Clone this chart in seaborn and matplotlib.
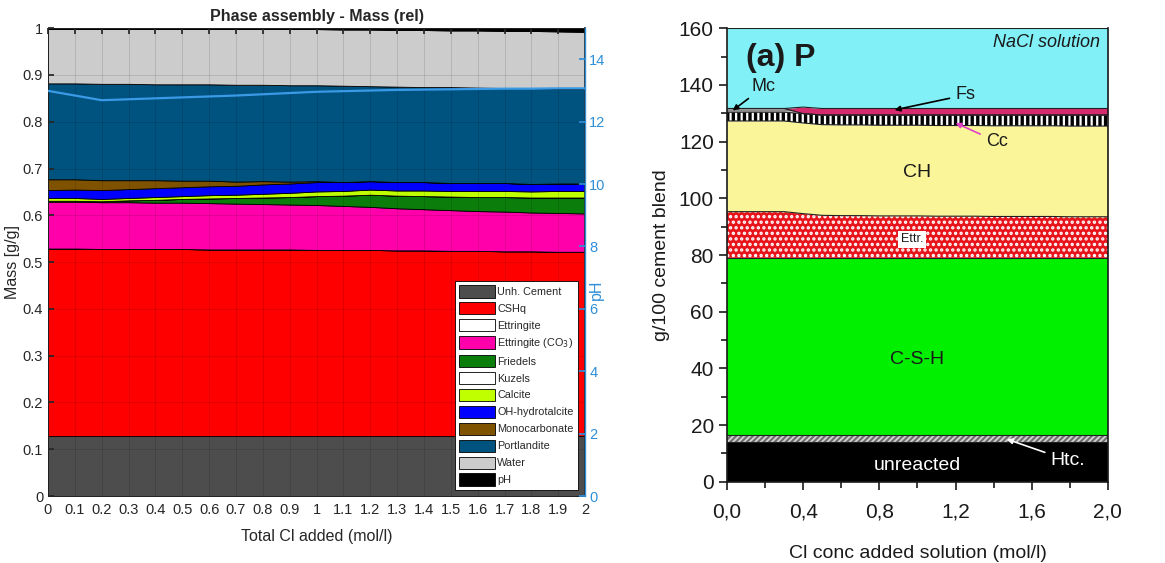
import numpy as np
import seaborn as sns
import matplotlib
matplotlib.use("Agg")
import matplotlib.pyplot as plt

# ---- left panel data (relative mass, g/g) ----
cl_added = [0.0, 0.1, 0.2, 0.3, 0.4, 0.5, 0.6, 0.7, 0.8, 0.9, 1.0,
            1.1, 1.2, 1.3, 1.4, 1.5, 1.6, 1.7, 1.8, 1.9, 2.0]
unh_cement = [0.128] * 21
cshq = [0.401, 0.401, 0.400, 0.400, 0.400, 0.400, 0.399, 0.399, 0.399, 0.399, 0.398,
        0.398, 0.398, 0.397, 0.397, 0.396, 0.396, 0.395, 0.395, 0.394, 0.394]
ettringite = [0.0] * 21
ettringite_co3 = [0.100, 0.100, 0.100, 0.100, 0.099, 0.099, 0.099, 0.098, 0.097, 0.096, 0.096,
                  0.094, 0.092, 0.090, 0.088, 0.087, 0.085, 0.085, 0.083, 0.083, 0.082]
friedels = [0.002, 0.002, 0.002, 0.004, 0.006, 0.008, 0.010, 0.012, 0.014, 0.016, 0.019,
            0.022, 0.026, 0.027, 0.028, 0.029, 0.030, 0.031, 0.032, 0.033, 0.034]
kuzels = [0.0] * 21
calcite = [0.006, 0.006, 0.005, 0.005, 0.006, 0.006, 0.007, 0.007, 0.008, 0.009, 0.010,
           0.010, 0.011, 0.011, 0.012, 0.012, 0.013, 0.013, 0.013, 0.014, 0.014]
oh_hydrotalcite = [0.017, 0.018, 0.019, 0.019, 0.019, 0.019, 0.019, 0.019, 0.020, 0.020, 0.020,
                   0.019, 0.018, 0.018, 0.018, 0.017, 0.017, 0.017, 0.016, 0.016, 0.016]
monocarbonate = [0.023, 0.022, 0.021, 0.019, 0.017, 0.014, 0.012, 0.009, 0.007, 0.004, 0.002,
                 0.0, 0.0, 0.0, 0.0, 0.0, 0.0, 0.0, 0.0, 0.0, 0.0]
portlandite = [0.205, 0.205, 0.206, 0.206, 0.205, 0.206, 0.206, 0.207, 0.206, 0.206, 0.205,
               0.206, 0.203, 0.204, 0.203, 0.205, 0.204, 0.203, 0.205, 0.203, 0.203]
water = [0.116, 0.116, 0.117, 0.117, 0.118, 0.118, 0.118, 0.119, 0.119, 0.120, 0.120,
         0.120, 0.121, 0.121, 0.122, 0.121, 0.122, 0.122, 0.122, 0.122, 0.121]
ph_band = [0.002, 0.002, 0.002, 0.002, 0.002, 0.002, 0.002, 0.002, 0.002, 0.002, 0.002,
           0.003, 0.003, 0.004, 0.004, 0.005, 0.005, 0.006, 0.006, 0.007, 0.008]
ph = [12.99, 12.84, 12.69, 12.72, 12.75, 12.78, 12.81, 12.84, 12.88, 12.92, 12.96,
      12.98, 13.00, 13.02, 13.03, 13.04, 13.05, 13.06, 13.06, 13.07, 13.07]

phase_names = ["Unh. Cement", "CSHq", "Ettringite", "Ettringite (CO$_3$)", "Friedels",
               "Kuzels", "Calcite", "OH-hydrotalcite", "Monocarbonate", "Portlandite",
               "Water", "pH"]
phase_colors = ["#4d4d4d", "#ff0000", "#ffffff", "#ff00aa", "#0a7d0a", "#ffffff",
                "#bfff00", "#0000ff", "#7f5200", "#00527f", "#cccccc", "#000000"]

# ---- right panel data (g/100 g cement blend) ----
cl_conc = [0.0, 0.1, 0.2, 0.3, 0.4, 0.5, 0.6, 0.7, 0.8, 0.9, 1.0,
           1.1, 1.2, 1.3, 1.4, 1.5, 1.6, 1.7, 1.8, 1.9, 2.0]
unreacted = [14.0] * 21
htc = [2.5] * 21
csh = [62.5] * 21
ettr = [16.3, 16.3, 16.3, 16.3, 15.6, 15.0, 14.9, 14.9, 14.8, 14.8, 14.8,
        14.7, 14.7, 14.7, 14.6, 14.6, 14.6, 14.6, 14.5, 14.5, 14.5]
ch = [32.0] * 21
cc = [3.1, 3.1, 3.1, 3.1, 3.3, 3.4, 3.5, 3.5, 3.6, 3.6, 3.6,
      3.7, 3.7, 3.7, 3.8, 3.8, 3.8, 3.8, 3.9, 3.9, 3.9]
mc = [1.3, 1.3, 1.3, 1.3, 0, 0, 0, 0, 0, 0, 0, 0, 0, 0, 0, 0, 0, 0, 0, 0, 0]
fs = [0, 0, 0, 0, 2.3, 2.3, 2.3, 2.3, 2.3, 2.3, 2.3,
      2.3, 2.3, 2.3, 2.3, 2.3, 2.3, 2.3, 2.3, 2.3, 2.3]
solution = [28.3, 28.3, 28.3, 28.3, 27.8, 28.3, 28.3, 28.3, 28.3, 28.3, 28.3,
            28.3, 28.3, 28.3, 28.3, 28.3, 28.3, 28.3, 28.3, 28.3, 28.3]
right_xticks = [0.0, 0.4, 0.8, 1.2, 1.6, 2.0]
right_xlabels = ["0,0", "0,4", "0,8", "1,2", "1,6", "2,0"]

sns.set_theme(style="white")
plt.rcParams["font.family"] = ["Liberation Sans Narrow", "Liberation Sans", "DejaVu Sans"]
plt.rcParams["hatch.linewidth"] = 1.6

fig = plt.figure(figsize=(11.65, 5.63), dpi=100)

# ================= left panel =================
ax = fig.add_axes([0.0412, 0.119, 0.461, 0.831])
layers = [unh_cement, cshq, ettringite, ettringite_co3, friedels, kuzels, calcite,
          oh_hydrotalcite, monocarbonate, portlandite, water, ph_band]
ax.stackplot(cl_added, *layers, colors=phase_colors, labels=phase_names,
             edgecolor="black", linewidth=0.6)
ax.set_xlim(0, 2)
ax.set_ylim(0, 1)
ax.set_xticks(np.arange(0, 2.01, 0.1))
ax.set_xticklabels(["%g" % round(v, 1) for v in np.arange(0, 2.01, 0.1)])
ax.set_yticks(np.arange(0, 1.01, 0.1))
ax.set_yticklabels(["%g" % round(v, 1) for v in np.arange(0, 1.01, 0.1)])
ax.set_axisbelow(False)
ax.grid(True, color="#000000", alpha=0.13, linewidth=0.6)
ax.tick_params(axis="both", direction="in", length=4, labelsize=10.5, colors="#262626",
               top=True, right=False)
ax.tick_params(axis="x", pad=5)
for s in ["left", "bottom", "top"]:
    ax.spines[s].set_color("#262626")
    ax.spines[s].set_linewidth(0.6)
ax.set_xlabel("Total Cl added (mol/l)", fontsize=11.5, color="#262626", labelpad=9)
ax.set_ylabel("Mass [g/g]", fontsize=11.5, color="#262626", labelpad=2)
ax.set_title("Phase assembly - Mass (rel)", fontsize=11.5, fontweight="bold", pad=5)
leg = ax.legend(loc="lower right", bbox_to_anchor=(0.987, 0.013), borderaxespad=0,
                fontsize=7.8, handlelength=3.3, handleheight=1.35, labelspacing=0.44,
                handletextpad=0.25, borderpad=0.4, frameon=True, fancybox=False,
                framealpha=1, edgecolor="black")
leg.get_frame().set_linewidth(0.6)

ph_color = "#2f8fd8"
ax2 = ax.twinx()
sns.lineplot(x=cl_added, y=ph, ax=ax2, color="#3a9ae6", linewidth=1.6)
ax2.set_ylim(0, 15)
ax2.set_yticks(np.arange(0, 15, 2))
ax2.tick_params(axis="y", direction="in", length=4, labelsize=10.5, colors=ph_color, pad=3)
ax2.set_ylabel("pH", fontsize=11.5, color=ph_color)
ax2.yaxis.set_label_coords(1.008, 0.44)
ax2.spines["right"].set_color(ph_color)
ax2.spines["right"].set_linewidth(1.0)
for s in ["left", "bottom", "top"]:
    ax2.spines[s].set_visible(False)

# ================= right panel =================
bx = fig.add_axes([0.624, 0.1444, 0.327, 0.8053])
right_layers = [
    (unreacted, "#000000", None, "black"),
    (htc, "#d8d8d8", "//////", "#707070"),
    (csh, "#00f000", None, "black"),
    (ettr, "#e8141c", "...", "white"),
    (ch, "#fbf59a", None, "black"),
    (cc, "#000000", "|||", "white"),
    (mc, "#f2f2f2", "----", "#8a8a8a"),
    (fs, "#d62a6e", None, "#d62a6e"),
    (solution, "#82f0f7", None, "#82f0f7"),
]
x = np.array(cl_conc)
base = np.zeros(len(x))
for vals, fc, hatch, ec in right_layers:
    top = base + np.array(vals)
    bx.fill_between(x, base, top, facecolor=fc, hatch=hatch, edgecolor=ec,
                    linewidth=0)
    bx.plot(x, top, color="#202020", linewidth=0.8)
    base = top

bx.set_xlim(0, 2)
bx.set_ylim(0, 160)
bx.set_xticks(right_xticks)
bx.set_xticklabels(right_xlabels)
bx.set_xticks(np.arange(0.2, 2.0, 0.4), minor=True)
bx.set_yticks(np.arange(0, 161, 20))
bx.set_yticks(np.arange(10, 160, 20), minor=True)
bx.tick_params(axis="both", which="major", direction="out", length=6, width=1.2,
               labelsize=15, colors="#1a1a1a", bottom=True, left=True)
bx.tick_params(axis="x", which="major", pad=9)
bx.tick_params(axis="both", which="minor", direction="out", length=4, width=1.2,
               bottom=True, left=True, colors="#1a1a1a")
bx.spines["top"].set_visible(False)
for s in ["left", "bottom", "right"]:
    bx.spines[s].set_color("#1a1a1a")
    bx.spines[s].set_linewidth(1.2)
bx.set_xlabel("Cl conc added solution (mol/l)", fontsize=14, color="#1a1a1a", labelpad=17)
bx.set_ylabel("g/100 cement blend", fontsize=14, color="#1a1a1a", labelpad=6)

bx.text(0.10, 149.5, "(a) P", fontsize=23, fontweight="bold", va="center", ha="left",
        color="#1a1a1a")
bx.text(1.96, 155, "NaCl solution", fontsize=13, style="italic", va="center",
        ha="right", color="#1a1a1a")
bx.annotate("Mc", xy=(0.03, 131), xytext=(0.13, 139.3), fontsize=13, va="center",
            color="#1a1a1a",
            arrowprops=dict(arrowstyle="-|>", color="black", lw=1.2,
                            shrinkA=0, shrinkB=0, mutation_scale=8))
bx.annotate("Fs", xy=(0.88, 131.2), xytext=(1.20, 136.5), fontsize=13, va="center",
            color="#1a1a1a",
            arrowprops=dict(arrowstyle="-|>", color="black", lw=1.2,
                            shrinkA=2, shrinkB=0, mutation_scale=8))
bx.annotate("Cc", xy=(1.20, 126.6), xytext=(1.36, 120), fontsize=13, va="center",
            color="#1a1a1a",
            arrowprops=dict(arrowstyle="-|>", color="#e040c8", lw=1.2,
                            shrinkA=2, shrinkB=0, mutation_scale=8))
bx.text(1.0, 109, "CH", fontsize=14, ha="center", va="center", color="#1a1a1a")
bx.text(0.97, 85.5, "Ettr.", fontsize=9, ha="center", va="center", color="#1a1a1a",
        bbox=dict(facecolor="white", edgecolor="none", pad=2))
bx.text(1.0, 43, "C-S-H", fontsize=14, ha="center", va="center", color="#1a1a1a")
bx.text(1.0, 5.8, "unreacted", fontsize=14, ha="center", va="center", color="white")
bx.annotate("Htc.", xy=(1.47, 15), xytext=(1.70, 7.5), fontsize=14, va="center",
            color="white",
            arrowprops=dict(arrowstyle="-|>", color="white", lw=1.2,
                            shrinkA=2, shrinkB=0, mutation_scale=8))

fig.savefig("out.png", dpi=100)
